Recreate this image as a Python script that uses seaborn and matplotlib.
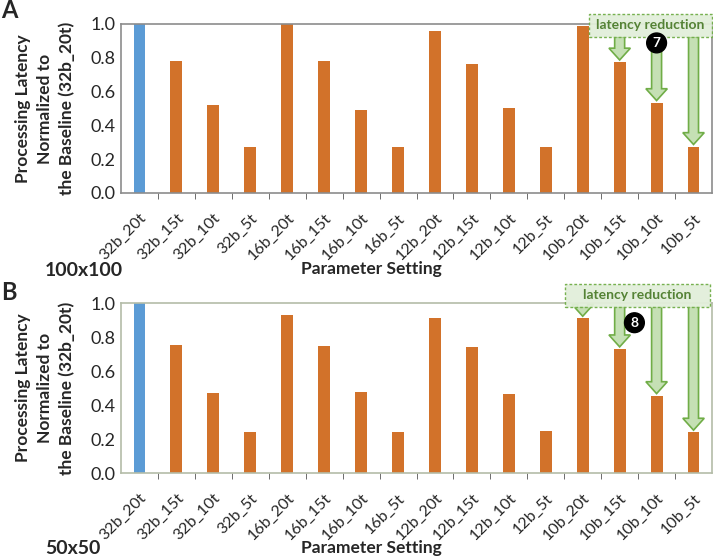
import matplotlib
matplotlib.use("Agg")
import matplotlib.pyplot as plt
import matplotlib.patches as mpatches
import pandas as pd
import seaborn as sns

settings = ['32b_20t', '32b_15t', '32b_10t', '32b_5t',
            '16b_20t', '16b_15t', '16b_10t', '16b_5t',
            '12b_20t', '12b_15t', '12b_10t', '12b_5t',
            '10b_20t', '10b_15t', '10b_10t', '10b_5t']
latency_100 = [1.00, 0.78, 0.52, 0.27,
               1.00, 0.78, 0.49, 0.27,
               0.96, 0.765, 0.50, 0.27,
               0.99, 0.775, 0.535, 0.275]
latency_50 = [1.00, 0.755, 0.47, 0.24,
              0.93, 0.75, 0.475, 0.24,
              0.91, 0.74, 0.465, 0.25,
              0.91, 0.73, 0.455, 0.24]
yticks = [0.0, 0.2, 0.4, 0.6, 0.8, 1.0]

sns.set_style('white')
plt.rcParams['font.family'] = ['Lato', 'DejaVu Sans']

BLUE = '#5B9BD5'
ORANGE = '#D2722A'
GREEN_EDGE = '#70AD47'
GREEN_FILL = '#C5E0B4'
BOX_FILL = '#E2EFDA'
TEXT_GREEN = '#548235'

fig = plt.figure(figsize=(7.13, 5.59), dpi=100)
ax_a = fig.add_axes([121 / 713, 1 - 193 / 559, 591 / 713, 169 / 559])
ax_b = fig.add_axes([121 / 713, 1 - 473 / 559, 591 / 713, 170 / 559])


def draw_panel(ax, values, spine_color):
    df = pd.DataFrame({'setting': settings, 'latency': values})
    df['kind'] = ['base' if s == '32b_20t' else 'other' for s in settings]
    sns.barplot(data=df, x='setting', y='latency', hue='kind',
                palette={'base': BLUE, 'other': ORANGE}, width=0.32, saturation=1,
                dodge=False, legend=False, ax=ax, linewidth=0, zorder=2)
    ax.set_xlim(-0.5, len(settings) - 0.5)
    ax.set_ylim(0, 1.0)
    ax.set_yticks(yticks)
    ax.set_yticklabels([f'{t:.1f}' for t in yticks], fontsize=13)
    ax.set_xticks(range(len(settings)))
    ax.set_xticklabels(settings, rotation=45, ha='right', rotation_mode='anchor', fontsize=11.5)
    ax.tick_params(axis='x', which='major', length=0, pad=13)
    ax.tick_params(axis='y', length=0, pad=4)
    ax.set_xticks([i + 0.5 for i in range(len(settings) - 1)], minor=True)
    ax.tick_params(axis='x', which='minor', length=4, direction='out', color='#555555', bottom=True)
    ax.set_xlabel('')
    ax.set_ylabel('')
    for sp in ax.spines.values():
        sp.set_color(spine_color)
        sp.set_linewidth(1.2)


def draw_reduction(ax, values, arrow_idx, box_x, box_y, text_x, circle_xy, circle_label):
    bottom = box_y[0]
    for i in arrow_idx:
        tip = values[i] + 0.012
        arr = mpatches.FancyArrow(i, bottom, 0, tip - bottom, width=0.27,
                                  head_width=0.58, head_length=0.07,
                                  length_includes_head=True, fc=GREEN_FILL,
                                  ec=GREEN_EDGE, lw=1.2, zorder=4, clip_on=False)
        ax.add_patch(arr)
    box = mpatches.Rectangle((box_x[0], box_y[0]), box_x[1] - box_x[0], box_y[1] - box_y[0],
                             fc=BOX_FILL, ec=GREEN_EDGE, lw=1.0, ls=(0, (2, 1.5)),
                             alpha=0.95, zorder=5, clip_on=False)
    ax.add_patch(box)
    ax.text(text_x, (box_y[0] + box_y[1]) / 2, 'latency reduction', color=TEXT_GREEN,
            fontsize=10, fontweight='bold', ha='center', va='center', zorder=6, clip_on=False)
    ax.text(circle_xy[0], circle_xy[1], circle_label, color='white', fontsize=10,
            fontweight='bold', ha='center', va='center', zorder=7,
            bbox=dict(boxstyle='circle,pad=0.28', fc='black', ec='black'))


draw_panel(ax_a, latency_100, '#8C8C8C')
draw_panel(ax_b, latency_50, '#B4BCA8')

draw_reduction(ax_a, latency_100, [13, 14, 15], (12.18, 15.5), (0.923, 1.06), 13.82,
               (14.0, 0.888), '7')
draw_reduction(ax_b, latency_50, [12, 13, 14, 15], (11.53, 15.45), (0.978, 1.114), 13.47,
               (13.4, 0.884), '8')

ylab = 'Processing Latency\nNormalized to\nthe Baseline (32b_20t)'
fig.text(45 / 713, 1 - 108.5 / 559, ylab, rotation=90, ha='center', va='center',
         multialignment='center', fontsize=12.5, fontweight='bold', linespacing=1.4)
fig.text(45 / 713, 1 - 388 / 559, ylab, rotation=90, ha='center', va='center',
         multialignment='center', fontsize=12.5, fontweight='bold', linespacing=1.4)

fig.text(371 / 713, 1 - 269 / 559, 'Parameter Setting', ha='center', va='center',
         fontsize=12.5, fontweight='bold')
fig.text(371 / 713, 1 - 548 / 559, 'Parameter Setting', ha='center', va='center',
         fontsize=12.5, fontweight='bold')
fig.text(45 / 713, 1 - 270 / 559, '100x100', ha='left', va='center', fontsize=14, fontweight='bold')
fig.text(45 / 713, 1 - 548 / 559, '50x50', ha='left', va='center', fontsize=14, fontweight='bold')
fig.text(1 / 713, 1 - 10 / 559, 'A', ha='left', va='center', fontsize=17, fontweight='bold')
fig.text(1 / 713, 1 - 292 / 559, 'B', ha='left', va='center', fontsize=17, fontweight='bold')

fig.savefig('out.png', dpi=100)
